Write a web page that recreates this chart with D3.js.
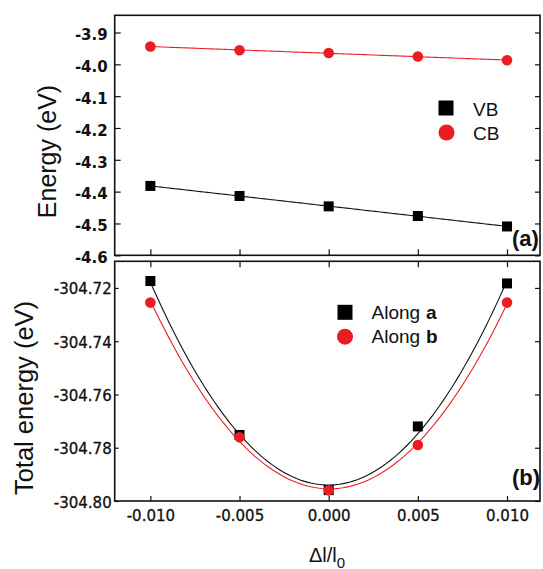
<!DOCTYPE html>
<html>
<head>
<meta charset="utf-8">
<script src="https://cdn.jsdelivr.net/npm/d3@7"></script>
<style>
  html, body { margin: 0; padding: 0; background: #fff; }
  svg { display: block; }
</style>
</head>
<body>
<svg id="chart" width="543" height="569"></svg>
<script>
// ---------- data ----------
const strain = [-0.010, -0.005, 0.000, 0.005, 0.010];
const vbEnergy = [-4.382, -4.4136, -4.4463, -4.4766, -4.5094];
const cbEnergy = [-3.944, -3.9558, -3.9643, -3.9756, -3.9873];
const totalAlongA = [-304.7174, -304.7752, -304.7959, -304.7720, -304.7183];
const totalAlongB = [-304.7255, -304.7761, -304.7960, -304.7790, -304.7255];

const xTicks = [-0.010, -0.005, 0.000, 0.005, 0.010];
const topYTicks = [-3.9, -4.0, -4.1, -4.2, -4.3, -4.4, -4.5, -4.6];
const botYTicks = [-304.72, -304.74, -304.76, -304.78, -304.80];

const topLegend = ["VB", "CB"];
const botLegend = ["a", "b"];

// ---------- layout ----------
const L = 114.7, R = 540;
const T1 = 15.3, B1 = 255.3;
const T2 = 261.3, B2 = 501;
const RED = "#ec1c24";
const INK = "#111";

const svg = d3.select("#chart");

const x = d3.scaleLinear().domain([-0.012, 0.01185]).range([L, R]);
const yTop = d3.scaleLinear().domain([-4.6, -3.846]).range([B1, T1]);
const yBot = d3.scaleLinear().domain([-304.80, -304.71]).range([B2, T2]);

// ---------- fits (least squares from the data) ----------
function polyFit(xs, ys, deg) {
  const n = deg + 1;
  const A = Array.from({length: n}, () => new Array(n + 1).fill(0));
  xs.forEach((xv, k) => {
    for (let i = 0; i < n; i++) {
      for (let j = 0; j < n; j++) A[i][j] += Math.pow(xv, i + j);
      A[i][n] += ys[k] * Math.pow(xv, i);
    }
  });
  for (let i = 0; i < n; i++) {
    let p = i;
    for (let r = i + 1; r < n; r++) if (Math.abs(A[r][i]) > Math.abs(A[p][i])) p = r;
    [A[i], A[p]] = [A[p], A[i]];
    for (let r = 0; r < n; r++) {
      if (r === i) continue;
      const f = A[r][i] / A[i][i];
      for (let c = i; c <= n; c++) A[r][c] -= f * A[i][c];
    }
  }
  const coef = A.map((row, i) => row[n] / row[i]);
  return xv => coef.reduce((s, c, i) => s + c * Math.pow(xv, i), 0);
}
const fitX = d3.range(-0.010, 0.010 + 1e-9, 0.0002);

function drawFit(g, ys, deg, yScale, color) {
  const f = polyFit(strain, ys, deg);
  g.append("path")
    .attr("d", d3.line().x(d => x(d)).y(d => yScale(f(d)))(fitX))
    .attr("fill", "none")
    .attr("stroke", color)
    .attr("stroke-width", 1.1);
}

// ---------- panel (a) ----------
const ga = svg.append("g");
drawFit(ga, cbEnergy, 1, yTop, RED);
drawFit(ga, vbEnergy, 1, yTop, INK);

ga.selectAll("rect.vb").data(strain).join("rect")
  .attr("x", (d) => x(d) - 5).attr("y", (d, i) => yTop(vbEnergy[i]) - 5)
  .attr("width", 10).attr("height", 10).attr("fill", "#000");
ga.selectAll("circle.cb").data(strain).join("circle")
  .attr("cx", d => x(d)).attr("cy", (d, i) => yTop(cbEnergy[i]))
  .attr("r", 5.3).attr("fill", RED);

// ---------- panel (b) ----------
const gb = svg.append("g");
drawFit(gb, totalAlongA, 2, yBot, INK);
drawFit(gb, totalAlongB, 2, yBot, RED);
gb.selectAll("rect.a").data(strain).join("rect")
  .attr("x", d => x(d) - 5).attr("y", (d, i) => yBot(totalAlongA[i]) - 5)
  .attr("width", 10).attr("height", 10).attr("fill", "#000");
gb.selectAll("circle.b").data(strain).join("circle")
  .attr("cx", d => x(d)).attr("cy", (d, i) => yBot(totalAlongB[i]))
  .attr("r", 5.3).attr("fill", RED);

// ---------- axes ----------
function styleAxis(g) {
  g.select(".domain").remove();
  g.selectAll(".tick line").attr("stroke", INK).attr("stroke-width", 1.2);
  g.selectAll(".tick text").attr("fill", INK);
}

// panel a left
svg.append("g").attr("transform", `translate(${L},0)`)
  .call(d3.axisLeft(yTop).tickValues(topYTicks).tickSize(-6).tickPadding(7).tickFormat(d => d.toFixed(1)))
  .call(styleAxis)
  .call(g => g.selectAll(".tick text")
    .attr("font-family", "DejaVu Sans").attr("font-weight", "bold").attr("font-size", 15).attr("dy", "0.48em"));
// panel a right
svg.append("g").attr("transform", `translate(${R},0)`)
  .call(d3.axisRight(yTop).tickValues(topYTicks).tickSize(-5).tickFormat(""))
  .call(styleAxis);
// panel a bottom
svg.append("g").attr("transform", `translate(0,${B1})`)
  .call(d3.axisBottom(x).tickValues(xTicks).tickSize(-6).tickFormat(""))
  .call(styleAxis);

// panel b left
svg.append("g").attr("transform", `translate(${L},0)`)
  .call(d3.axisLeft(yBot).tickValues(botYTicks).tickSize(-4).tickPadding(3).tickFormat(d => d.toFixed(2)))
  .call(styleAxis)
  .call(g => g.selectAll(".tick text")
    .attr("font-family", "DejaVu Sans").attr("font-size", 15).attr("dy", "0.4em")
    .attr("stroke", INK).attr("stroke-width", 0.3));
// panel b right
svg.append("g").attr("transform", `translate(${R},0)`)
  .call(d3.axisRight(yBot).tickValues(botYTicks).tickSize(-5).tickFormat(""))
  .call(styleAxis);
// panel b top
svg.append("g").attr("transform", `translate(0,${T2})`)
  .call(d3.axisTop(x).tickValues(xTicks).tickSize(-6).tickFormat(""))
  .call(styleAxis);
// panel b bottom
svg.append("g").attr("transform", `translate(0,${B2})`)
  .call(d3.axisBottom(x).tickValues(xTicks).tickSize(-5).tickPadding(9).tickFormat(d => Math.abs(d) < 1e-12 ? "0.000" : d.toFixed(3)))
  .call(styleAxis)
  .call(g => g.selectAll(".tick text")
    .attr("font-family", "DejaVu Sans").attr("font-size", 15)
    .attr("stroke", INK).attr("stroke-width", 0.3));

// ---------- frames ----------
[[T1, B1], [T2, B2]].forEach(([t, b]) => {
  svg.append("rect").attr("x", L).attr("y", t).attr("width", R - L).attr("height", b - t)
    .attr("fill", "none").attr("stroke", INK).attr("stroke-width", 1.6);
});

// ---------- legends ----------
const lgA = svg.append("g").attr("font-family", "Liberation Sans, Arial, sans-serif").attr("font-size", 19).attr("fill", INK);
lgA.append("rect").attr("x", 438.5).attr("y", 100.5).attr("width", 15).attr("height", 15).attr("fill", "#000");
lgA.append("circle").attr("cx", 446.5).attr("cy", 132.5).attr("r", 8).attr("fill", RED);
lgA.append("text").attr("x", 473).attr("y", 116).text(topLegend[0]);
lgA.append("text").attr("x", 473).attr("y", 140).text(topLegend[1]);

const lgB = svg.append("g").attr("font-family", "Liberation Sans, Arial, sans-serif").attr("font-size", 19).attr("fill", INK);
lgB.append("rect").attr("x", 337.5).attr("y", 304.8).attr("width", 15).attr("height", 15).attr("fill", "#000");
lgB.append("circle").attr("cx", 345).attr("cy", 336.7).attr("r", 8).attr("fill", RED);
botLegend.forEach((s, i) => {
  const t = lgB.append("text").attr("x", 371.5).attr("y", 319.3 + i * 24);
  t.append("tspan").text("Along");
  t.append("tspan").attr("dx", 6).attr("font-weight", "bold").text(s);
});

// ---------- panel labels ----------
svg.append("text").attr("x", 512).attr("y", 246).attr("font-family", "Liberation Sans, Arial, sans-serif")
  .attr("font-weight", "bold").attr("font-size", 22).attr("fill", INK).text("(a)");
svg.append("text").attr("x", 512).attr("y", 485).attr("font-family", "Liberation Sans, Arial, sans-serif")
  .attr("font-weight", "bold").attr("font-size", 22).attr("fill", INK).text("(b)");

// ---------- axis titles ----------
svg.append("text").attr("transform", "translate(56,151.5) rotate(-90)").attr("text-anchor", "middle")
  .attr("font-family", "Liberation Sans, Arial, sans-serif").attr("font-size", 25).attr("fill", INK)
  .text("Energy (eV)");
svg.append("text").attr("transform", "translate(33,398) rotate(-90)").attr("text-anchor", "middle")
  .attr("font-family", "Liberation Sans, Arial, sans-serif").attr("font-size", 25.5).attr("fill", INK)
  .text("Total energy (eV)");

const xl = svg.append("text").attr("x", 309).attr("y", 561.5)
  .attr("font-family", "Liberation Sans, Arial, sans-serif").attr("font-size", 20).attr("fill", INK);
xl.append("tspan").text("Δl/l");
xl.append("tspan").attr("font-size", 15).attr("dy", 6).text("0");
</script>
</body>
</html>
